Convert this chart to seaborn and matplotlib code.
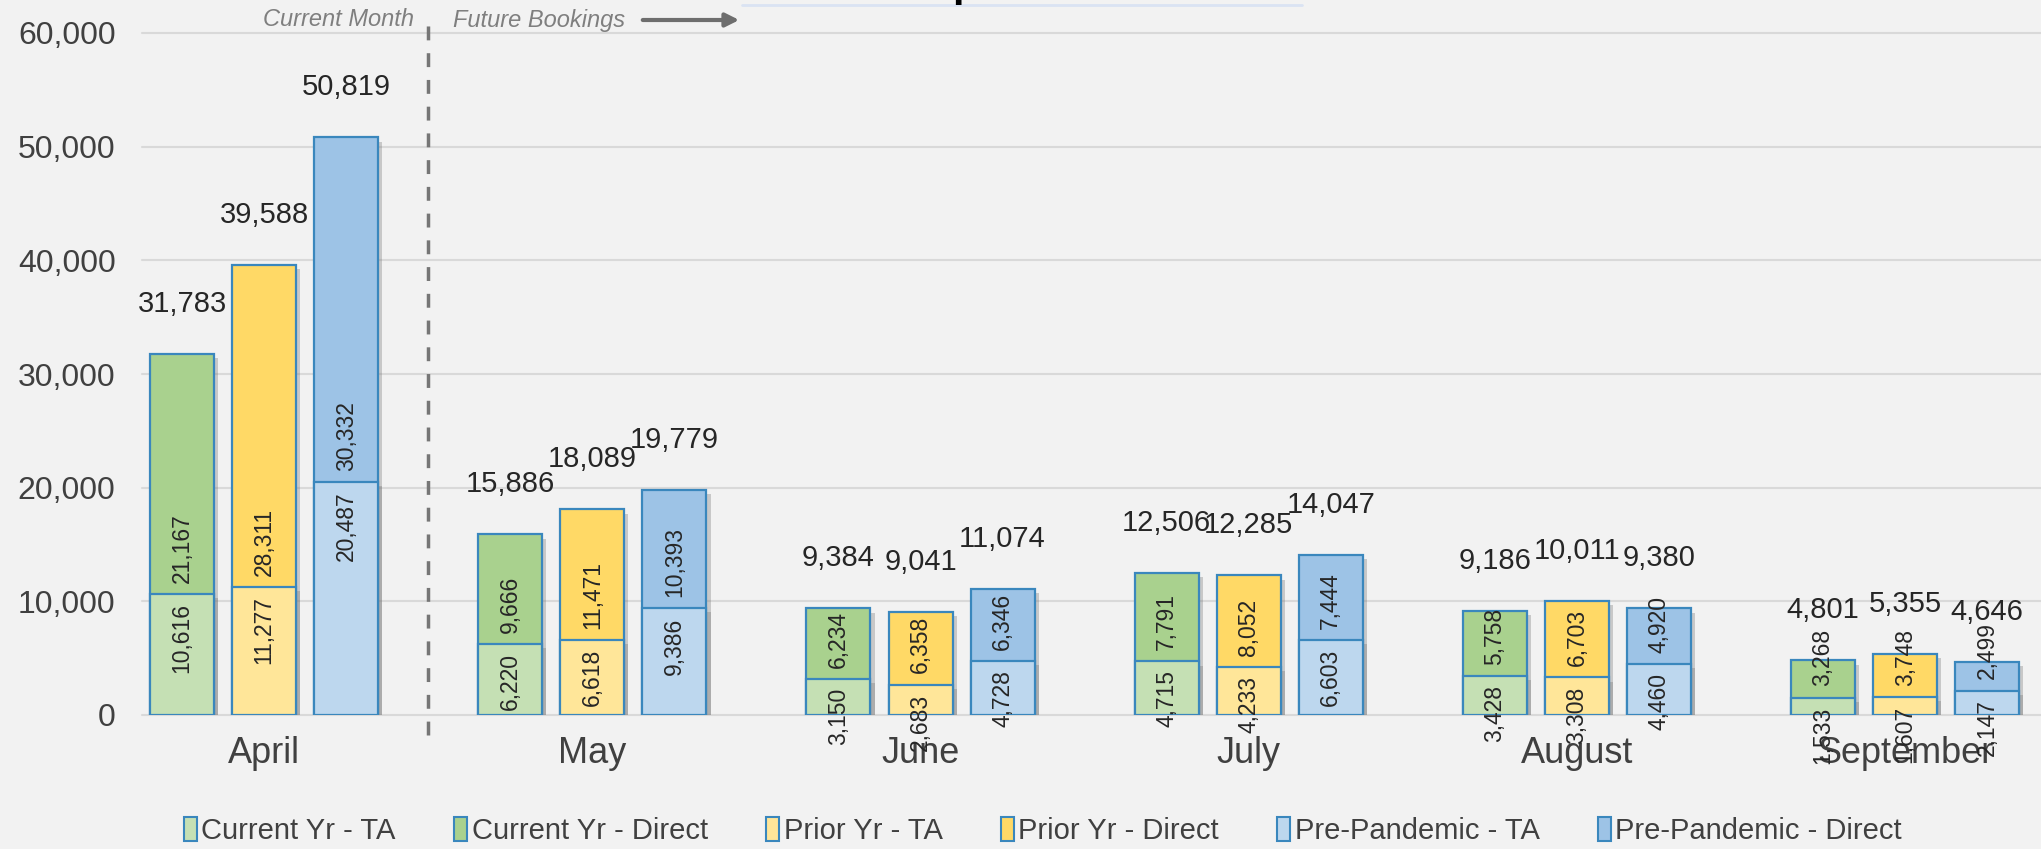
import pandas as pd
import matplotlib.pyplot as plt
import matplotlib.transforms as mtransforms
from matplotlib import patheffects as pe
from matplotlib.patches import Patch
from matplotlib.lines import Line2D
from matplotlib.ticker import FuncFormatter
import seaborn as sns

# data
months = ['April', 'May', 'June', 'July', 'August', 'September']
series = ['Current Yr', 'Prior Yr', 'Pre-Pandemic']
cur_ta = [10616, 6220, 3150, 4715, 3428, 1533]
cur_direct = [21167, 9666, 6234, 7791, 5758, 3268]
prior_ta = [11277, 6618, 2683, 4233, 3308, 1607]
prior_direct = [28311, 11471, 6358, 8052, 6703, 3748]
pre_ta = [20487, 9386, 4728, 6603, 4460, 2147]
pre_direct = [30332, 10393, 6346, 7444, 4920, 2499]

ta_colors = {'Current Yr': '#C5E0B4', 'Prior Yr': '#FFE699', 'Pre-Pandemic': '#BDD7EE'}
direct_colors = {'Current Yr': '#A9D18E', 'Prior Yr': '#FFD966', 'Pre-Pandemic': '#9DC3E6'}
edge = '#3A87BD'
bg = '#F2F2F2'
txt = '#404040'

rows = []
for s, ta, di in zip(series, [cur_ta, prior_ta, pre_ta], [cur_direct, prior_direct, pre_direct]):
    for m, a, d in zip(months, ta, di):
        rows.append({'month': m, 'series': s, 'ta': a, 'direct': d, 'total': a + d})
df = pd.DataFrame(rows)

sns.set_style('white')
plt.rcParams['font.family'] = ['Liberation Sans', 'DejaVu Sans']

fig = plt.figure(figsize=(20.41, 8.49), dpi=100, facecolor=bg)
ax = fig.add_axes([142 / 2041, 1 - 715 / 849, 1 - 142 / 2041, (715 - 33) / 849])
ax.set_facecolor(bg)

shadow = [pe.SimplePatchShadow(offset=(3, -3), shadow_rgbFace='#7A7A7A', alpha=0.35), pe.Normal()]
bar_kw = dict(x='month', y='total', hue='series', order=months, hue_order=series,
              width=0.75, gap=0.22, edgecolor=edge, linewidth=1.6, errorbar=None,
              saturation=1, legend=False, ax=ax)

sns.barplot(data=df, palette=direct_colors, **bar_kw)
n_top = len(ax.containers)
sns.barplot(data=df.assign(total=df['ta']), palette=ta_colors, **bar_kw)

top_conts = ax.containers[:n_top]
ta_conts = ax.containers[n_top:]

# totals above, Direct label sits just above the TA/Direct boundary
for s, cont in zip(series, top_conts):
    sub = df[df['series'] == s].set_index('month').loc[months]
    for p, (_, r) in zip(cont.patches, sub.iterrows()):
        p.set_path_effects(shadow)
        xc = p.get_x() + p.get_width() / 2
        ax.annotate(f"{r['total']:,}", (xc, r['total']), xytext=(0, 36),
                    textcoords='offset points', ha='center', va='center',
                    fontsize=21, color='#262626')
        ax.annotate(f"{r['direct']:,}", (xc, r['ta']), xytext=(0, 8),
                    textcoords='offset points', rotation=90, ha='center', va='bottom',
                    fontsize=16.5, color='#262626')

# TA label hangs just under the top of the TA segment
for s, cont in zip(series, ta_conts):
    sub = df[df['series'] == s].set_index('month').loc[months]
    for p, (_, r) in zip(cont.patches, sub.iterrows()):
        p.set_path_effects(shadow)
        xc = p.get_x() + p.get_width() / 2
        ax.annotate(f"{r['ta']:,}", (xc, r['ta']), xytext=(0, -6.5),
                    textcoords='offset points', rotation=90, ha='center', va='top',
                    fontsize=16.5, color='#262626', annotation_clip=False)

ax.set_ylim(0, 60000)
ax.set_xlim(-0.372, 5.414)
ax.set_yticks(range(0, 60001, 10000))
ax.yaxis.set_major_formatter(FuncFormatter(lambda v, _: f'{int(v):,}'))
ax.yaxis.grid(True, color='#D9D9D9', linewidth=1.5)
for gl in ax.get_ygridlines():
    gl.set_clip_on(False)
ax.set_axisbelow(True)
sns.despine(ax=ax, left=True, bottom=True)
ax.tick_params(axis='y', length=0, pad=19, labelsize=23, labelcolor=txt)
ax.tick_params(axis='x', length=0, pad=15, labelsize=26, labelcolor=txt)
ax.set_xlabel('')
ax.set_ylabel('')

# current month / future bookings divider
trans = mtransforms.blended_transform_factory(ax.transData, ax.transAxes)
ax.plot([0.5, 0.5], [-0.029, 1.025], transform=trans, clip_on=False,
        color='#767676', linewidth=2.5, dashes=(4, 3.7), zorder=5)
fig.text(414 / 2041, 1 - 20 / 849, 'Current Month', ha='right', va='center',
         fontsize=17, style='italic', color='#7F7F7F')
fig.text(453 / 2041, 1 - 20 / 849, 'Future Bookings', ha='left', va='center',
         fontsize=17, style='italic', color='#7F7F7F')
ax.annotate('', xy=(742 / 2041, 1 - 20 / 849), xytext=(640 / 2041, 1 - 20 / 849),
            xycoords='figure fraction', textcoords='figure fraction',
            arrowprops=dict(arrowstyle='-|>', color='#6E6E6E', lw=3, mutation_scale=20))

# chart title box, cut off at the top edge
fig.add_artist(Line2D([742 / 2041, 1302 / 2041], [1 - 5 / 849] * 2, color='#DAE3F3', lw=2))
fig.text(965 / 2041, 1 + 4 / 849, 'p', fontsize=30, fontweight='bold',
         ha='center', va='baseline', color='#000000')

handles = []
labels = []
for s in series:
    handles.append(Patch(facecolor=ta_colors[s], edgecolor=edge, linewidth=1.5))
    labels.append(f'{s} - TA')
    handles.append(Patch(facecolor=direct_colors[s], edgecolor=edge, linewidth=1.5))
    labels.append(f'{s} - Direct')
fig.legend(handles, labels, loc='center', bbox_to_anchor=(0.511, 1 - 831 / 849), ncol=6,
           frameon=False, fontsize=21, handlelength=0.45, handleheight=0.9,
           handletextpad=0.15, columnspacing=2.0, labelcolor=txt)

fig.savefig('out.png', dpi=100, facecolor=bg)
